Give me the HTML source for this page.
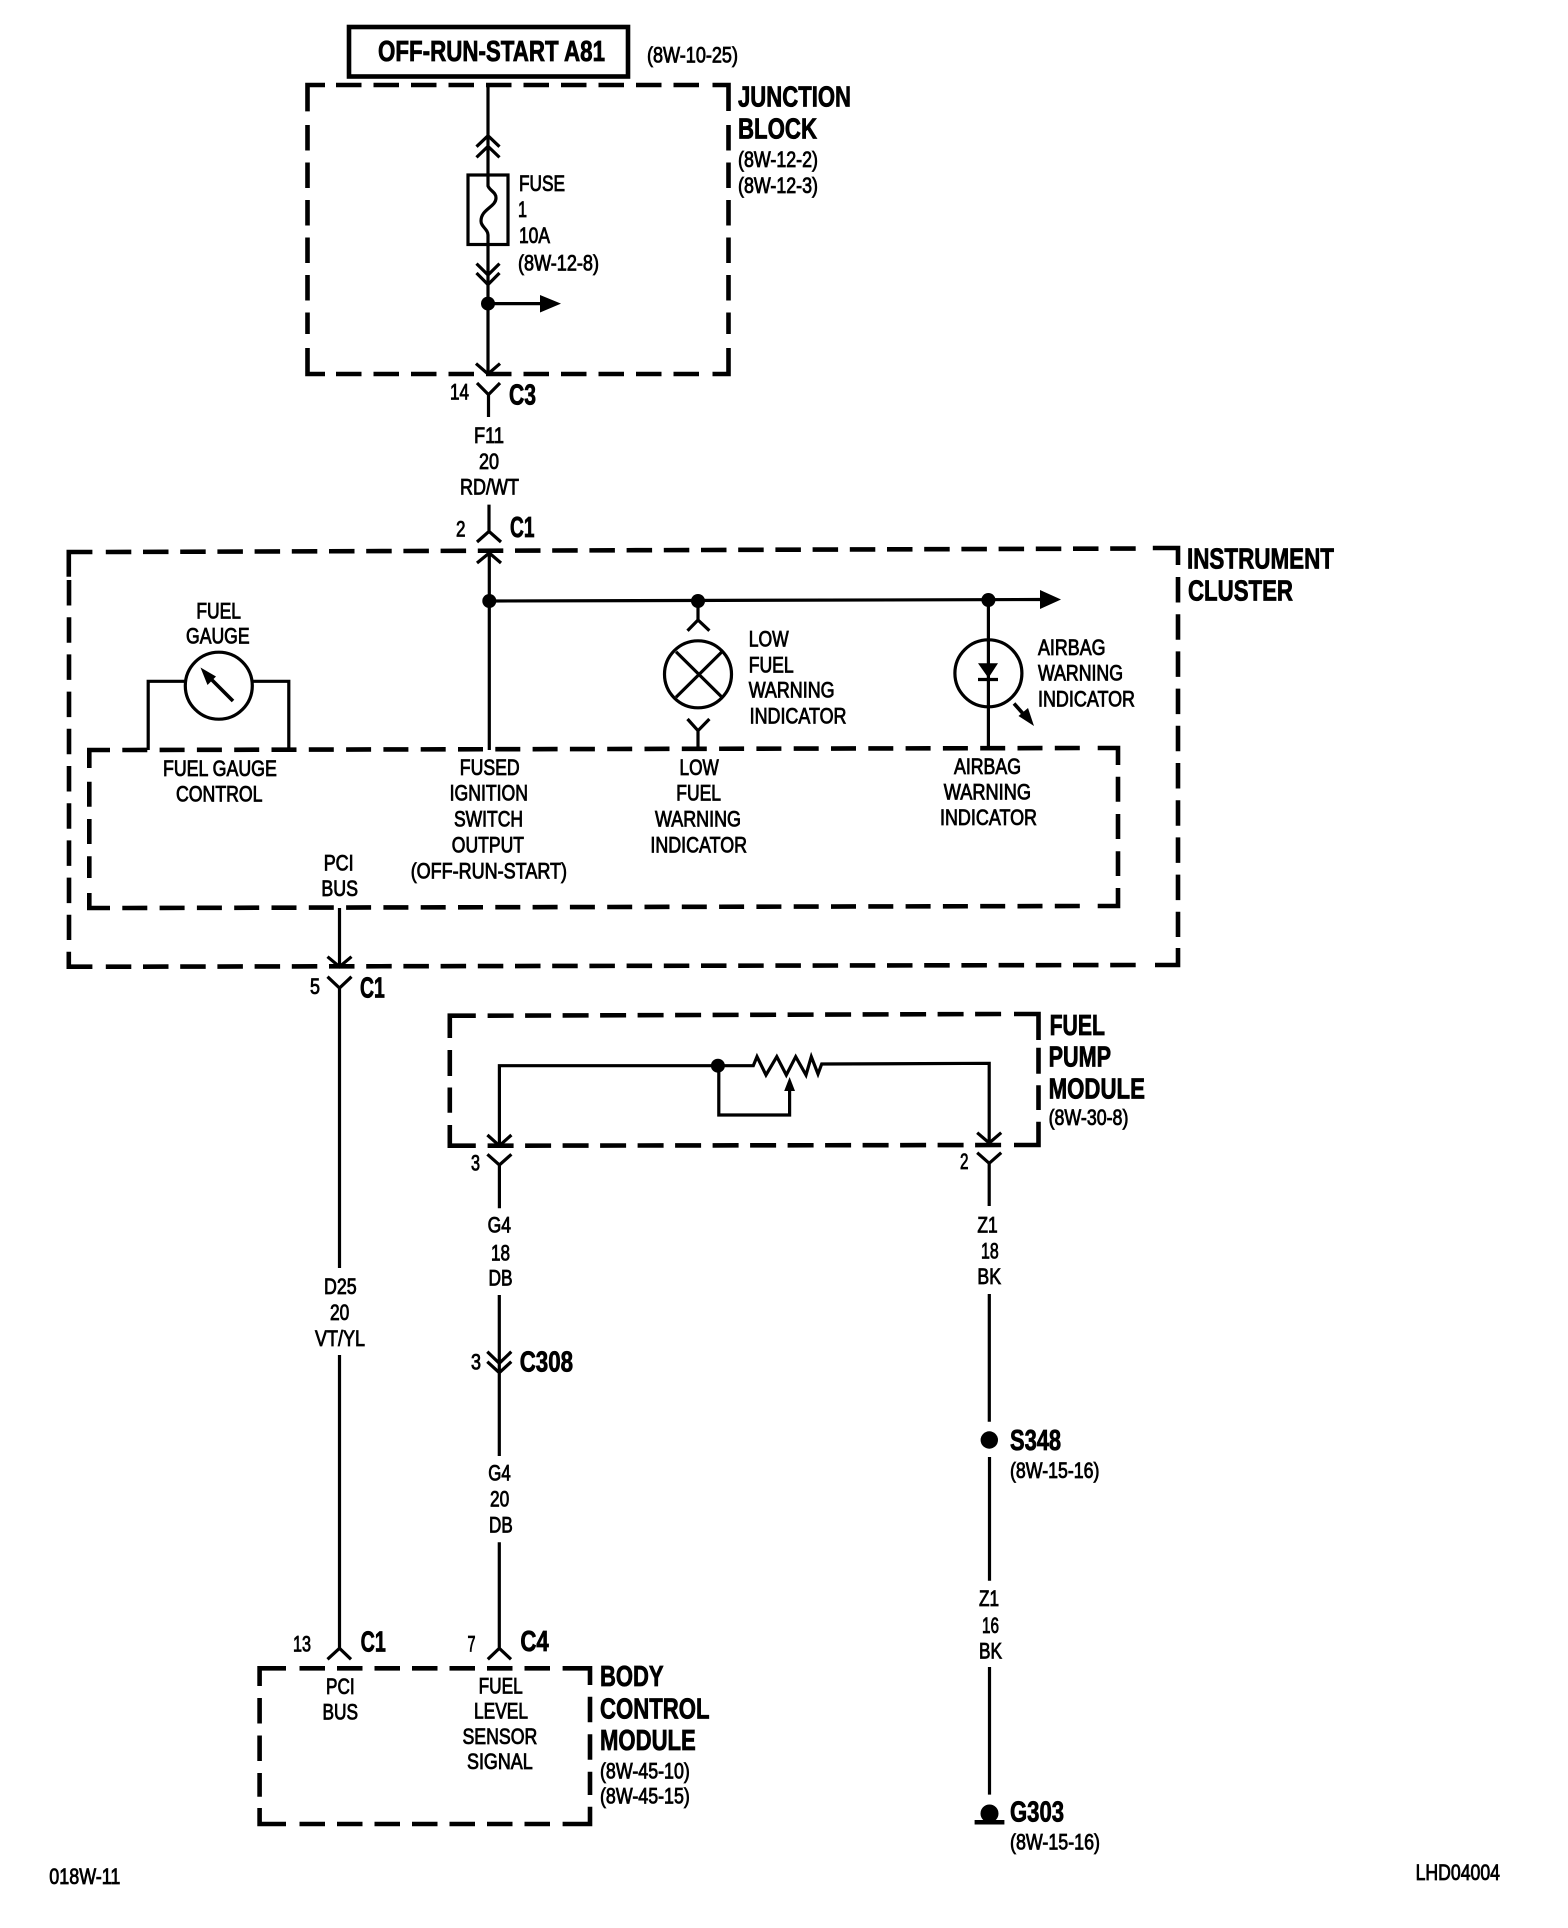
<!DOCTYPE html>
<html><head><meta charset="utf-8"><title>Wiring diagram</title>
<style>
html,body{margin:0;padding:0;background:#fff;width:1568px;height:1928px;overflow:hidden}
svg{display:block}
text{font-family:"Liberation Sans",sans-serif;fill:#000;stroke:#000}
.r{font-size:22px;stroke-width:.85px}
.b{font-size:29px;font-weight:bold;stroke-width:.8px}
.w{fill:none;stroke:#000;stroke-width:3.2}
.d{fill:none;stroke:#000;stroke-width:4.6;stroke-dasharray:25.5 12}
.c{fill:none;stroke:#000;stroke-width:4.6}
</style></head><body>
<svg width="1568" height="1928" viewBox="0 0 1568 1928" xmlns="http://www.w3.org/2000/svg">
<rect width="1568" height="1928" fill="#fff"/>

<!-- top box -->
<rect x="349" y="27" width="279" height="49.5" fill="none" stroke="#000" stroke-width="4.6"/>

<!-- junction block -->
<path class="c" d="M325 85H307.5V111.4M712.5 85H728.5V111M307.5 348V374H325M728.5 348V374H712.5"/>
<path class="d" d="M336 85H699M336 374H699M307.5 125V334M728.5 125V334"/>
<path class="w" d="M488 85V175M476.5 146.7L488 135.7L499.5 146.7M476.5 157.4L488 146.4L499.5 157.4"/>
<rect x="468" y="175" width="40" height="69.5" class="w"/>
<path class="w" d="M488 175V186C490 191 496 192 496 198C496 207 481 209 481 221C481 227 488 229 488 235V375"/>
<path class="w" d="M476.5 263.6L488 275L499.5 263.6M476.5 273L488 284.6L499.5 273M476 363.6L488 374L500 363.6"/>
<circle cx="488" cy="303.6" r="7"/>
<path class="w" d="M488 303.6H542"/>
<path d="M540 295L561 303.6L540 312.5Z"/>
<path class="w" d="M477 383L488.5 394.6L500 383M488.5 394.6V417"/>
<path class="w" d="M489 504.6V531.4M477 542L489 531.4L501 542"/>

<!-- instrument cluster outer -->
<path class="c" d="M92.4 552H68.8V576.7M1152.8 548H1178V565M68.8 951.7V966.7H92.4M1178 948V965H1155"/>
<path class="d" d="M105.8 552L1141 548.5M105.8 966.7L1141 965M69 580V940M1178 577V937" style="stroke-dasharray:25.5 11.7"/>

<!-- inner rect -->
<path class="c" d="M110 750H89.3V768M1097.7 748H1118V765M89.3 893V908H110M1118 888V906H1097.7"/>
<path class="d" d="M122.3 750L1084 748M122.3 908L1084 906M89.3 781.7V878M1118 776.7V876" style="stroke-dasharray:25 12.3"/>

<!-- fuel gauge -->
<circle cx="218.8" cy="685.7" r="33.5" class="w"/>
<path class="w" d="M185.3 681.3H148.2V750M252.3 681.3H288.8V750"/>
<path class="w" d="M233 701L208 676" style="stroke-width:3.6"/>
<path d="M200.5 667.5L216 676.500L207.5 685Z"/>

<!-- main cluster wiring -->
<path class="w" d="M489.3 552V750M477 563L489.3 553L501 563"/>
<circle cx="489.3" cy="601" r="7"/>
<path class="w" d="M489.3 601L1042 599.5"/>
<path d="M1040 590L1061 599.5L1040 609Z"/>
<circle cx="698" cy="601" r="7"/>
<circle cx="988.4" cy="600" r="7"/>
<path class="w" d="M698 601V620M687.5 630.7L698 620L709.4 630.7"/>
<circle cx="698" cy="674.3" r="33.5" class="w"/>
<path class="w" d="M676 651.7L722 697.3M722 651.7L676 697.3"/>
<path class="w" d="M687.5 719L698 730.7L709.4 719M698 730.7V750"/>
<path class="w" d="M988.4 600V748"/>
<circle cx="988.4" cy="673.3" r="33.5" class="w"/>
<path d="M978 663.3H998L988.4 678Z"/>
<path class="w" d="M978 679.5H998"/>
<path class="w" d="M1014 703.5L1026 717" style="stroke-width:3.6"/>
<path d="M1034 726L1018.500 716L1028 708Z"/>

<!-- PCI bus wire -->
<path class="w" d="M339.5 908V966.7M327.5 956.7L339.5 966.7L351.5 956.7"/>
<path class="w" d="M327.5 976.7L339.5 988L351.5 976.7M339.5 988V1268M339.5 1355V1648.3"/>
<path class="w" d="M327.5 1659.3L339.5 1648.3L351 1659.3"/>

<!-- fuel pump module -->
<path class="c" d="M475.8 1015.7H449.8V1038M1014 1014H1038.5V1040M449.8 1125V1145.7H475.8M1038.5 1121.7V1145H1014"/>
<path class="d" d="M487.6 1015.7L1002 1014M487.6 1145.7L1002 1145M449.8 1050V1112.7M1038.5 1047.7V1110" style="stroke-dasharray:26 11.5"/>
<path class="w" d="M499.4 1145.7V1065.7L718 1065.7L753.3 1065.7L757 1056.7L766 1075L776.8 1056.7L786.3 1075L795.7 1056.7L806 1075L811.3 1056.7L818 1074L821.7 1064L989.2 1063.3V1143"/>
<circle cx="717.9" cy="1065.7" r="7"/>
<path class="w" d="M718.8 1065.7V1115H789.6V1088"/>
<path d="M789.6 1077L795 1091H784.2Z"/>
<path class="w" d="M487.4 1135L499.4 1145.7L511.4 1135M977.2 1132.7L989.2 1143L1001.2 1132.7"/>
<path class="w" d="M487.4 1154.3L499.4 1165L511.4 1154.3M499.4 1165V1208.3"/>
<path class="w" d="M977.2 1152.7L989.2 1163.3L1001.2 1152.7M989.2 1163.3V1206"/>

<!-- G4 wire -->
<path class="w" d="M499.3 1295V1456M487.3 1351.7L499.3 1363.3L511.3 1351.7M487.3 1361.7L499.3 1372.7L511.3 1361.7"/>
<path class="w" d="M499.3 1542.3V1648.3M487.8 1659.3L499.3 1648.3L511 1659.3"/>

<!-- Z1 wire -->
<path class="w" d="M989.3 1294V1421.7M989.5 1457V1580.8M989.5 1667V1794.6"/>
<circle cx="989.3" cy="1440" r="8.7"/>
<circle cx="989.5" cy="1813.5" r="9"/>
<rect x="974.6" y="1820" width="29.8" height="4.5"/>

<!-- body control module -->
<path class="c" d="M286 1668.3H259.6V1686M562.6 1668.3H590V1685M259.6 1808V1824H286M590 1806.7V1824H562.6"/>
<path class="d" d="M299.5 1668.3H551M299.5 1824H551M259.6 1698V1796.7M590 1696.7V1795" style="stroke-dasharray:25.5 12"/>

<!-- text -->
<text class="b" x="378" y="61" textLength="227" lengthAdjust="spacingAndGlyphs">OFF-RUN-START A81</text>
<text class="r" x="647" y="62.5" textLength="91" lengthAdjust="spacingAndGlyphs">(8W-10-25)</text>
<text class="b" x="738" y="106.4" textLength="113" lengthAdjust="spacingAndGlyphs">JUNCTION</text>
<text class="b" x="738" y="138.6" textLength="79" lengthAdjust="spacingAndGlyphs">BLOCK</text>
<text class="r" x="738" y="166.8" textLength="80" lengthAdjust="spacingAndGlyphs">(8W-12-2)</text>
<text class="r" x="738" y="192.9" textLength="80" lengthAdjust="spacingAndGlyphs">(8W-12-3)</text>
<text class="r" x="519" y="191" textLength="46" lengthAdjust="spacingAndGlyphs">FUSE</text>
<text class="r" x="518" y="216.8" textLength="9" lengthAdjust="spacingAndGlyphs">1</text>
<text class="r" x="519" y="242.9" textLength="31" lengthAdjust="spacingAndGlyphs">10A</text>
<text class="r" x="518" y="270.7" textLength="81" lengthAdjust="spacingAndGlyphs">(8W-12-8)</text>
<text class="r" x="450" y="399.3" textLength="19" lengthAdjust="spacingAndGlyphs">14</text>
<text class="b" x="509" y="404.6" textLength="27" lengthAdjust="spacingAndGlyphs">C3</text>
<text class="r" x="474" y="442.9" textLength="30" lengthAdjust="spacingAndGlyphs">F11</text>
<text class="r" x="479" y="469" textLength="20" lengthAdjust="spacingAndGlyphs">20</text>
<text class="r" x="460" y="494.6" textLength="59" lengthAdjust="spacingAndGlyphs">RD/WT</text>
<text class="r" x="456" y="536.4" textLength="9.5" lengthAdjust="spacingAndGlyphs">2</text>
<text class="b" x="510" y="536.8" textLength="24.5" lengthAdjust="spacingAndGlyphs">C1</text>

<text class="b" x="1187" y="568.3" textLength="147" lengthAdjust="spacingAndGlyphs">INSTRUMENT</text>
<text class="b" x="1188" y="600.7" textLength="105" lengthAdjust="spacingAndGlyphs">CLUSTER</text>

<text class="r" x="196.4" y="618.3" textLength="44.6" lengthAdjust="spacingAndGlyphs">FUEL</text>
<text class="r" x="186" y="643.3" textLength="63.6" lengthAdjust="spacingAndGlyphs">GAUGE</text>
<text class="r" x="163" y="776" textLength="113.8" lengthAdjust="spacingAndGlyphs">FUEL GAUGE</text>
<text class="r" x="176" y="801.7" textLength="86.5" lengthAdjust="spacingAndGlyphs">CONTROL</text>
<text class="r" x="459.8" y="775" textLength="59.8" lengthAdjust="spacingAndGlyphs">FUSED</text>
<text class="r" x="449.6" y="800.7" textLength="78.4" lengthAdjust="spacingAndGlyphs">IGNITION</text>
<text class="r" x="454" y="826.7" textLength="69" lengthAdjust="spacingAndGlyphs">SWITCH</text>
<text class="r" x="451.8" y="852.3" textLength="72.2" lengthAdjust="spacingAndGlyphs">OUTPUT</text>
<text class="r" x="410.7" y="878.3" textLength="156.3" lengthAdjust="spacingAndGlyphs">(OFF-RUN-START)</text>
<text class="r" x="323.7" y="870.7" textLength="29.9" lengthAdjust="spacingAndGlyphs">PCI</text>
<text class="r" x="321.4" y="896" textLength="36.6" lengthAdjust="spacingAndGlyphs">BUS</text>
<text class="r" x="679.5" y="775" textLength="39.3" lengthAdjust="spacingAndGlyphs">LOW</text>
<text class="r" x="676.3" y="800.7" textLength="44.7" lengthAdjust="spacingAndGlyphs">FUEL</text>
<text class="r" x="655" y="826.7" textLength="86" lengthAdjust="spacingAndGlyphs">WARNING</text>
<text class="r" x="650.4" y="852.3" textLength="96.6" lengthAdjust="spacingAndGlyphs">INDICATOR</text>
<text class="r" x="310" y="994" textLength="10" lengthAdjust="spacingAndGlyphs">5</text>
<text class="b" x="360" y="997.3" textLength="24.8" lengthAdjust="spacingAndGlyphs">C1</text>

<text class="r" x="748.7" y="646.7" textLength="40" lengthAdjust="spacingAndGlyphs">LOW</text>
<text class="r" x="748.7" y="672.3" textLength="45" lengthAdjust="spacingAndGlyphs">FUEL</text>
<text class="r" x="748.7" y="697.3" textLength="85.9" lengthAdjust="spacingAndGlyphs">WARNING</text>
<text class="r" x="749.6" y="723.3" textLength="96.9" lengthAdjust="spacingAndGlyphs">INDICATOR</text>
<text class="r" x="1038" y="655" textLength="67.5" lengthAdjust="spacingAndGlyphs">AIRBAG</text>
<text class="r" x="1038" y="680.7" textLength="85" lengthAdjust="spacingAndGlyphs">WARNING</text>
<text class="r" x="1038" y="706.7" textLength="97" lengthAdjust="spacingAndGlyphs">INDICATOR</text>
<text class="r" x="954" y="774" textLength="67" lengthAdjust="spacingAndGlyphs">AIRBAG</text>
<text class="r" x="943.8" y="799.3" textLength="87.2" lengthAdjust="spacingAndGlyphs">WARNING</text>
<text class="r" x="940" y="825" textLength="97" lengthAdjust="spacingAndGlyphs">INDICATOR</text>

<text class="b" x="1049.6" y="1035" textLength="55.4" lengthAdjust="spacingAndGlyphs">FUEL</text>
<text class="b" x="1048.6" y="1066.7" textLength="62.4" lengthAdjust="spacingAndGlyphs">PUMP</text>
<text class="b" x="1048.6" y="1098.3" textLength="96.4" lengthAdjust="spacingAndGlyphs">MODULE</text>
<text class="r" x="1048.6" y="1125" textLength="79.8" lengthAdjust="spacingAndGlyphs">(8W-30-8)</text>
<text class="r" x="471" y="1170.7" textLength="9" lengthAdjust="spacingAndGlyphs">3</text>
<text class="r" x="960" y="1169" textLength="8.5" lengthAdjust="spacingAndGlyphs">2</text>
<text class="r" x="487.6" y="1232.7" textLength="23.4" lengthAdjust="spacingAndGlyphs">G4</text>
<text class="r" x="491" y="1260.7" textLength="19" lengthAdjust="spacingAndGlyphs">18</text>
<text class="r" x="488.5" y="1285.7" textLength="24.1" lengthAdjust="spacingAndGlyphs">DB</text>
<text class="r" x="977.4" y="1232.7" textLength="20.3" lengthAdjust="spacingAndGlyphs">Z1</text>
<text class="r" x="981" y="1258.3" textLength="17.7" lengthAdjust="spacingAndGlyphs">18</text>
<text class="r" x="977.4" y="1284" textLength="23.6" lengthAdjust="spacingAndGlyphs">BK</text>

<text class="r" x="324" y="1294" textLength="32.7" lengthAdjust="spacingAndGlyphs">D25</text>
<text class="r" x="330" y="1320" textLength="19.3" lengthAdjust="spacingAndGlyphs">20</text>
<text class="r" x="315" y="1346" textLength="50" lengthAdjust="spacingAndGlyphs">VT/YL</text>

<text class="r" x="471" y="1369.3" textLength="10" lengthAdjust="spacingAndGlyphs">3</text>
<text class="b" x="519.7" y="1371.7" textLength="53.3" lengthAdjust="spacingAndGlyphs">C308</text>
<text class="r" x="488.3" y="1480.7" textLength="22.4" lengthAdjust="spacingAndGlyphs">G4</text>
<text class="r" x="490" y="1506.7" textLength="19.3" lengthAdjust="spacingAndGlyphs">20</text>
<text class="r" x="489" y="1532.3" textLength="23.7" lengthAdjust="spacingAndGlyphs">DB</text>

<text class="b" x="1010" y="1449.8" textLength="51" lengthAdjust="spacingAndGlyphs">S348</text>
<text class="r" x="1010" y="1478" textLength="89.4" lengthAdjust="spacingAndGlyphs">(8W-15-16)</text>
<text class="r" x="979" y="1606" textLength="20" lengthAdjust="spacingAndGlyphs">Z1</text>
<text class="r" x="982" y="1633" textLength="17" lengthAdjust="spacingAndGlyphs">16</text>
<text class="r" x="979" y="1658.6" textLength="23" lengthAdjust="spacingAndGlyphs">BK</text>
<text class="b" x="1010" y="1821.5" textLength="54" lengthAdjust="spacingAndGlyphs">G303</text>
<text class="r" x="1010" y="1849.5" textLength="90" lengthAdjust="spacingAndGlyphs">(8W-15-16)</text>
<text class="r" x="1415.6" y="1879.8" textLength="84.4" lengthAdjust="spacingAndGlyphs">LHD04004</text>

<text class="r" x="293" y="1651.7" textLength="18" lengthAdjust="spacingAndGlyphs">13</text>
<text class="b" x="360.6" y="1651.7" textLength="25.2" lengthAdjust="spacingAndGlyphs">C1</text>
<text class="r" x="467.5" y="1651.7" textLength="8" lengthAdjust="spacingAndGlyphs">7</text>
<text class="b" x="520.4" y="1651" textLength="28.4" lengthAdjust="spacingAndGlyphs">C4</text>
<text class="r" x="326" y="1694" textLength="28.6" lengthAdjust="spacingAndGlyphs">PCI</text>
<text class="r" x="322.5" y="1719.3" textLength="35.5" lengthAdjust="spacingAndGlyphs">BUS</text>
<text class="r" x="478.6" y="1693.3" textLength="44.1" lengthAdjust="spacingAndGlyphs">FUEL</text>
<text class="r" x="474" y="1718.3" textLength="54" lengthAdjust="spacingAndGlyphs">LEVEL</text>
<text class="r" x="462.5" y="1744" textLength="74.8" lengthAdjust="spacingAndGlyphs">SENSOR</text>
<text class="r" x="467" y="1769" textLength="65.7" lengthAdjust="spacingAndGlyphs">SIGNAL</text>
<text class="b" x="600" y="1686" textLength="63.6" lengthAdjust="spacingAndGlyphs">BODY</text>
<text class="b" x="600" y="1718.3" textLength="109.5" lengthAdjust="spacingAndGlyphs">CONTROL</text>
<text class="b" x="600" y="1750" textLength="95.8" lengthAdjust="spacingAndGlyphs">MODULE</text>
<text class="r" x="600" y="1778.3" textLength="89.8" lengthAdjust="spacingAndGlyphs">(8W-45-10)</text>
<text class="r" x="600" y="1803.3" textLength="89.8" lengthAdjust="spacingAndGlyphs">(8W-45-15)</text>
<text class="r" x="49.3" y="1884" textLength="71.1" lengthAdjust="spacingAndGlyphs">018W-11</text>
</svg>
</body></html>
